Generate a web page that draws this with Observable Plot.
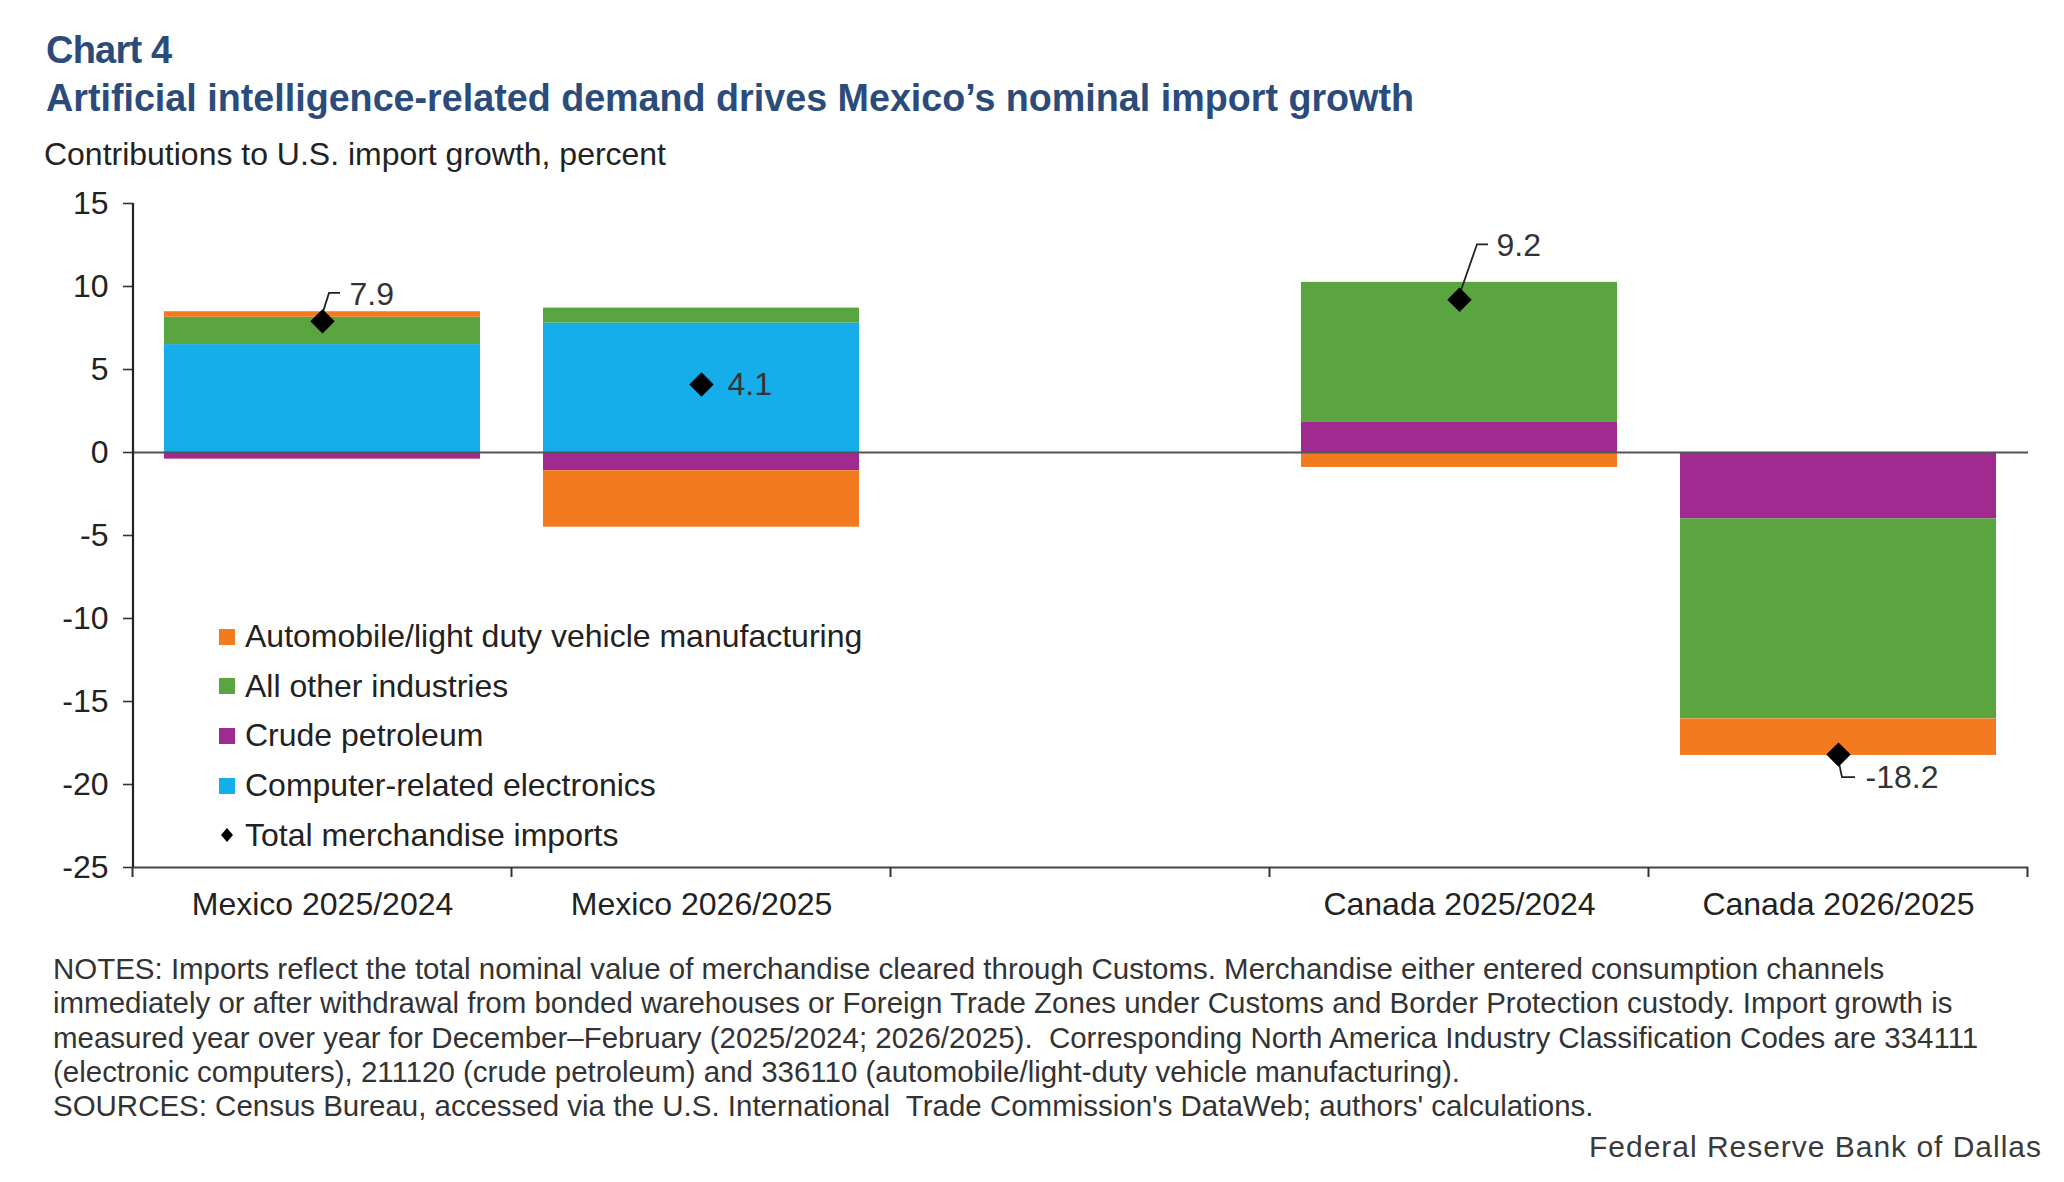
<!DOCTYPE html>
<html>
<head>
<meta charset="utf-8">
<script src="https://cdn.jsdelivr.net/npm/d3@7"></script>
<script src="https://cdn.jsdelivr.net/npm/@observablehq/plot@0.6"></script>
<style>
  html, body { margin: 0; padding: 0; background: #fff; }
  #page { position: relative; width: 2064px; height: 1182px; overflow: hidden; font-family: "Liberation Sans", Arial, sans-serif; }
  svg.txt { position: absolute; left: 0; overflow: visible; }
  #chart { position: absolute; left: 0; top: 180px; }
  #legend { position: absolute; left: 219px; top: 612px; }
  .row { display: flex; align-items: center; height: 49.6px; font-size: 32px; color: #222; white-space: nowrap; }
  .sw { width: 16px; height: 16px; margin-right: 10px; flex: none; }
</style>
</head>
<body>
<div id="page">
  <svg id="head" class="txt" width="2064" height="180" style="top:0">
    <text x="46" y="63" font-weight="bold" font-size="38" fill="#2b4b7b" letter-spacing="-0.8">Chart 4</text>
    <text x="46" y="111" font-weight="bold" font-size="38" fill="#2b4b7b" textLength="1368" lengthAdjust="spacingAndGlyphs">Artificial intelligence-related demand drives Mexico’s nominal import growth</text>
    <text x="44" y="165" font-size="32" fill="#222" textLength="622" lengthAdjust="spacingAndGlyphs">Contributions to U.S. import growth, percent</text>
  </svg>
  <div id="chart"></div>
  <div id="legend"></div>
  <svg id="notes" class="txt" width="2064" height="240" style="top:942px"></svg>
</div>
<script>
// ---------- data ----------
const categories = ["Mexico 2025/2024", "Mexico 2026/2025", "gap", "Canada 2025/2024", "Canada 2026/2025"];
const categoryLabels = ["Mexico 2025/2024", "Mexico 2026/2025", "", "Canada 2025/2024", "Canada 2026/2025"];
const periods = ["Mexico 2025/2024", "Mexico 2026/2025", "Canada 2025/2024", "Canada 2026/2025"];

// stacking order (from zero outward)
const series = [
  "Computer-related electronics",
  "Crude petroleum",
  "All other industries",
  "Automobile/light duty vehicle manufacturing"
];
const computerElectronics = [6.5, 7.8, 0.0, 0.0];
const crudePetroleum      = [-0.4, -1.1, 1.85, -4.0];
const allOtherIndustries  = [1.65, 0.9, 8.4, -12.05];
const autoManufacturing   = [0.33, -3.4, -0.9, -2.2];
const totalImports        = [7.9, 4.1, 9.2, -18.2];
const totalLabel = "Total merchandise imports";
const yTicks = [-25, -20, -15, -10, -5, 0, 5, 10, 15];

const noteLines = [
  "NOTES: Imports reflect the total nominal value of merchandise cleared through Customs. Merchandise either entered consumption channels",
  "immediately or after withdrawal from bonded warehouses or Foreign Trade Zones under Customs and Border Protection custody. Import growth is",
  "measured year over year for December–February (2025/2024; 2026/2025).  Corresponding North America Industry Classification Codes are 334111",
  "(electronic computers), 211120 (crude petroleum) and 336110 (automobile/light-duty vehicle manufacturing).",
  "SOURCES: Census Bureau, accessed via the U.S. International  Trade Commission's DataWeb; authors' calculations."
];
const footer = "Federal Reserve Bank of Dallas";

// ---------- styles ----------
const colors = ["#16adeb", "#a02a8f", "#5aa540", "#f47a20"];
const legendOrder = [3, 2, 1, 0];
// label placement (pixel offsets from the diamond)
const annotations = [
  {dx: 27, dy: -27, leader: [[1, -9], [7, -28], [18, -28]]},
  {dx: 26, dy: 0, leader: null},
  {dx: 37, dy: -54, leader: [[2, -9], [18, -55], [29, -55]]},
  {dx: 27, dy: 23, leader: [[1, 9], [4, 23], [17, 23]]}
];

const seriesValues = [computerElectronics, crudePetroleum, allOtherIndustries, autoManufacturing];
const barData = periods.flatMap((p, i) => series.map((s, j) => ({period: p, series: s, value: seriesValues[j][i]})));
const totalData = periods.map((p, i) => ({period: p, total: totalImports[i]}));

function decorations(index, scales, values, dimensions) {
  const x = scales.x, y = scales.y;
  const bw = x.bandwidth(), step = x.step();
  const g = d3.create("svg:g");
  const [yTop, yBot] = [y(d3.max(y.domain())), y(d3.min(y.domain()))];
  // y axis line
  g.append("line").attr("x1", dimensions.marginLeft).attr("x2", dimensions.marginLeft)
    .attr("y1", yTop).attr("y2", yBot).attr("stroke", "#222").attr("stroke-width", 2.2);
  // category boundary ticks
  const bounds = categories.map(c => x(c) + bw / 2 - step / 2).concat([x(categories[categories.length - 1]) + bw / 2 + step / 2]);
  for (const b of bounds) {
    g.append("line").attr("x1", b).attr("x2", b).attr("y1", yBot).attr("y2", yBot + 10)
      .attr("stroke", "#333").attr("stroke-width", 2);
  }
  // leader lines
  periods.forEach((p, i) => {
    const a = annotations[i];
    if (!a.leader) return;
    const cx = x(p) + bw / 2, cy = y(totalImports[i]);
    g.append("path").attr("d", d3.line()(a.leader.map(([dx, dy]) => [cx + dx, cy + dy])))
      .attr("fill", "none").attr("stroke", "#222").attr("stroke-width", 1.8);
  });
  return g.node();
}

const chart = Plot.plot({
  width: 2064,
  height: 760,
  marginLeft: 133,
  marginRight: 36,
  marginTop: 23,
  marginBottom: 73,
  style: {fontFamily: "Liberation Sans, Arial, sans-serif", fontSize: "32px", color: "#222", background: "transparent", overflow: "visible"},
  x: {domain: categories, paddingInner: 0.166, paddingOuter: 0.083, label: null, axis: null},
  y: {domain: [-25, 15], label: null, axis: null},
  color: {domain: series, range: colors},
  marks: [
    Plot.barY(barData, {x: "period", y: "value", fill: "series", order: series}),
    Plot.ruleY([0], {stroke: "#555", strokeWidth: 2}),
    Plot.ruleY([-25], {stroke: "#444", strokeWidth: 2}),
    Plot.axisY({ticks: yTicks, tickSize: 10, tickPadding: 15, stroke: "#333", strokeWidth: 1.6, fill: "#222", label: null,
      tickFormat: d => String(d)}),
    Plot.axisX({tickSize: 0, tickPadding: 25, fill: "#222", label: null,
      tickFormat: d => categoryLabels[categories.indexOf(d)]}),
    decorations,
    Plot.dot(totalData, {x: "period", y: "total", symbol: "diamond2", r: 11, fill: "#000", stroke: "none"}),
    ...periods.map((p, i) => Plot.text([totalData[i]], {
      x: "period", y: "total", text: d => d.total.toFixed(1),
      dx: annotations[i].dx, dy: annotations[i].dy, textAnchor: "start", fill: "#333", fontSize: 32
    }))
  ]
});
document.getElementById("chart").appendChild(chart);

// ---------- legend ----------
const legend = d3.select("#legend");
legendOrder.forEach(j => {
  const row = legend.append("div").attr("class", "row");
  row.append("div").attr("class", "sw").style("background", colors[j]);
  row.append("span").text(series[j]);
});
{
  const row = legend.append("div").attr("class", "row");
  const sv = row.append("svg").attr("width", 16).attr("height", 16).style("margin-right", "10px").style("flex", "none");
  sv.append("path").attr("d", "M8,1L14,8L8,15L2,8Z").attr("fill", "#000");
  row.append("span").text(totalLabel);
}

// ---------- notes & footer ----------
const notes = d3.select("#notes");
const probe = notes.append("text").attr("font-size", 28).attr("font-family", "Liberation Sans, Arial, sans-serif").text(noteLines[0]);
const w28 = probe.node().getComputedTextLength();
probe.remove();
const noteSize = 28 * 1832 / w28;
noteLines.forEach((t, i) => {
  notes.append("text").attr("x", 53).attr("y", 37 + i * 34.3)
    .attr("font-size", noteSize).attr("fill", "#333").attr("xml:space", "preserve").style("white-space", "pre").text(t);
});
notes.append("text").attr("x", 2041).attr("y", 215).attr("text-anchor", "end")
  .attr("font-size", 30).attr("fill", "#3a3a3a").attr("textLength", 452).attr("lengthAdjust", "spacing").text(footer);
</script>
</body>
</html>
